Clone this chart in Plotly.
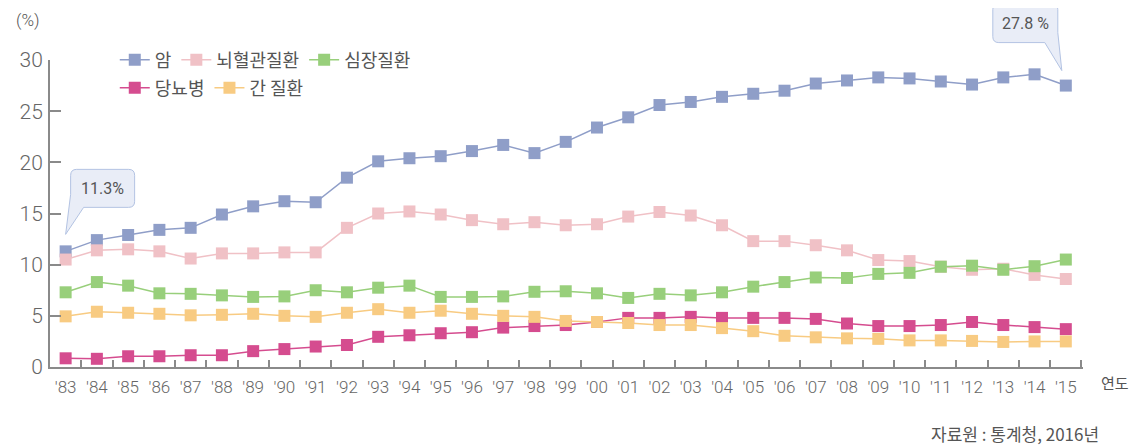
import plotly.graph_objects as go

years = ["'83", "'84", "'85", "'86", "'87", "'88", "'89", "'90", "'91", "'92", "'93", "'94", "'95",
         "'96", "'97", "'98", "'99", "'00", "'01", "'02", "'03", "'04", "'05", "'06", "'07", "'08",
         "'09", "'10", "'11", "'12", "'13", "'14", "'15"]

cancer = [11.3, 12.4, 12.9, 13.4, 13.6, 14.9, 15.7, 16.2, 16.1, 18.5, 20.1, 20.4, 20.6, 21.1, 21.7,
          20.9, 22.0, 23.4, 24.4, 25.6, 25.9, 26.4, 26.7, 27.0, 27.7, 28.0, 28.3, 28.2, 27.9, 27.6,
          28.3, 28.6, 27.5]
cerebro = [10.5, 11.4, 11.5, 11.3, 10.6, 11.1, 11.1, 11.2, 11.2, 13.6, 15.0, 15.2, 14.9, 14.35, 13.95,
           14.15, 13.85, 13.95, 14.7, 15.15, 14.8, 13.85, 12.3, 12.3, 11.9, 11.4, 10.45, 10.35, 9.8,
           9.5, 9.6, 9.0, 8.6]
heart = [7.3, 8.3, 7.95, 7.2, 7.15, 7.0, 6.85, 6.9, 7.5, 7.3, 7.75, 7.95, 6.85, 6.85, 6.9, 7.35, 7.4,
         7.2, 6.75, 7.15, 7.0, 7.3, 7.85, 8.3, 8.75, 8.7, 9.1, 9.2, 9.8, 9.9, 9.5, 9.85, 10.5]
diabetes = [0.85, 0.8, 1.05, 1.05, 1.15, 1.15, 1.55, 1.75, 2.0, 2.15, 2.95, 3.1, 3.3, 3.4, 3.85, 4.0,
            4.1, 4.4, 4.8, 4.8, 4.9, 4.8, 4.8, 4.8, 4.7, 4.25, 4.0, 4.0, 4.1, 4.4, 4.1, 3.9, 3.7]
liver = [4.95, 5.4, 5.3, 5.2, 5.05, 5.1, 5.2, 5.0, 4.9, 5.3, 5.65, 5.3, 5.5, 5.2, 5.0, 4.9, 4.5, 4.4,
         4.3, 4.1, 4.1, 3.8, 3.5, 3.05, 2.9, 2.8, 2.75, 2.6, 2.6, 2.55, 2.45, 2.5, 2.5]

y_ticks = [0, 5, 10, 15, 20, 25, 30]
Y_MAX = 30

series = [
    ("암", cancer, "#8f9ec8", "legend"),
    ("뇌혈관질환", cerebro, "#f0c1c6", "legend"),
    ("심장질환", heart, "#98cf7b", "legend"),
    ("당뇨병", diabetes, "#d54c8f", "legend2"),
    ("간 질환", liver, "#f8cb82", "legend2"),
]

xs = list(range(len(years)))
NFONT = "Roboto, Noto Sans, sans-serif"
KFONT = "Noto Sans CJK KR, sans-serif"
GRAY = "#8a8a8a"
TXT = "#555555"

fig = go.Figure()
for name, vals, col, lg in series:
    fig.add_trace(go.Scatter(
        x=xs, y=vals, name=name, mode="lines+markers",
        line=dict(color=col, width=1.5),
        marker=dict(symbol="square", size=12, color=col),
        legend=lg, cliponaxis=False,
    ))

fig.update_layout(
    width=1135, height=437,
    margin=dict(l=39, r=60, t=52, b=78),
    paper_bgcolor="white", plot_bgcolor="white",
    showlegend=True,
    legend=dict(orientation="h", x=0.0627, xanchor="left", y=1.0, yanchor="middle",
                font=dict(family=KFONT, size=18, color=TXT), bgcolor="rgba(0,0,0,0)",
                itemclick=False, traceorder="normal"),
    legend2=dict(orientation="h", x=0.0627, xanchor="left", y=0.909, yanchor="middle",
                 font=dict(family=KFONT, size=18, color=TXT), bgcolor="rgba(0,0,0,0)",
                 itemclick=False, traceorder="normal"),
    xaxis=dict(
        range=[-0.5, len(years) - 0.45], tickmode="array", tickvals=xs, ticktext=years,
        ticks="", showgrid=False, zeroline=False, showline=True, linecolor=GRAY, linewidth=2,
        tickfont=dict(family=NFONT, size=17, color="#666666", weight=300), ticklabelstandoff=4,
        minor=dict(tickmode="array", tickvals=[i + 0.5 for i in xs], ticks="inside",
                   ticklen=7, tickcolor=GRAY, tickwidth=1.5, showgrid=False),
    ),
    yaxis=dict(
        range=[0, Y_MAX], tickmode="array", tickvals=y_ticks, ticks="inside", ticklen=11,
        tickcolor=GRAY, tickwidth=1.5, showgrid=False, zeroline=False, showline=True,
        linecolor=GRAY, linewidth=2, tickfont=dict(family=NFONT, size=21, color="#666666", weight=300),
        ticklabelstandoff=1,
    ),
)

bubble_fill = "#e9edf7"
bubble_line = "#b3c3e3"
# callout bubbles anchored to the first and last cancer points (pixel-offset outlines)
p1 = "M 5,57 L 0,17 L 18,44 L 63,44 Q 69,44 69,50 L 69,76 Q 69,82 63,82 L 11,82 Q 5,82 5,76 Z"
p2 = "M -21,43 L -4,15 L -8,53 L -8,76 Q -8,82 -14,82 L -67,82 Q -73,82 -73,76 L -73,49 Q -73,43 -67,43 Z"
fig.add_shape(type="path", path=p1, xref="x", yref="paper", xsizemode="pixel", ysizemode="pixel",
              xanchor=0, yanchor=cancer[0] / Y_MAX, fillcolor=bubble_fill,
              line=dict(color=bubble_line, width=1))
fig.add_shape(type="path", path=p2, xref="x", yref="paper", xsizemode="pixel", ysizemode="pixel",
              xanchor=len(years) - 1, yanchor=cancer[-1] / Y_MAX, fillcolor=bubble_fill,
              line=dict(color=bubble_line, width=1))

fig.add_annotation(x=0, y=cancer[0], xref="x", yref="y", text="11.3%", showarrow=False,
                   xshift=37, yshift=63, font=dict(family=NFONT, size=16, color=TXT))
fig.add_annotation(x=len(years) - 1, y=cancer[-1], xref="x", yref="y", text="27.8 %", showarrow=False,
                   xshift=-40, yshift=62, font=dict(family=NFONT, size=16, color=TXT))

fig.add_annotation(x=-0.021, y=1.13, xref="paper", yref="paper", text="(%)", showarrow=False,
                   font=dict(family=NFONT, size=17, color=TXT, weight=300),
                   xanchor="center", yanchor="middle")
fig.add_annotation(x=1.031, y=-0.052, xref="paper", yref="paper", text="연도", showarrow=False,
                   font=dict(family=KFONT, size=15, color=TXT), xanchor="center", yanchor="middle")
fig.add_annotation(x=1.017, y=-0.215, xref="paper", yref="paper", text="자료원 : 통계청, 2016년",
                   showarrow=False, font=dict(family=KFONT, size=17, color=TXT),
                   xanchor="right", yanchor="middle")

fig.write_html("out.html")
